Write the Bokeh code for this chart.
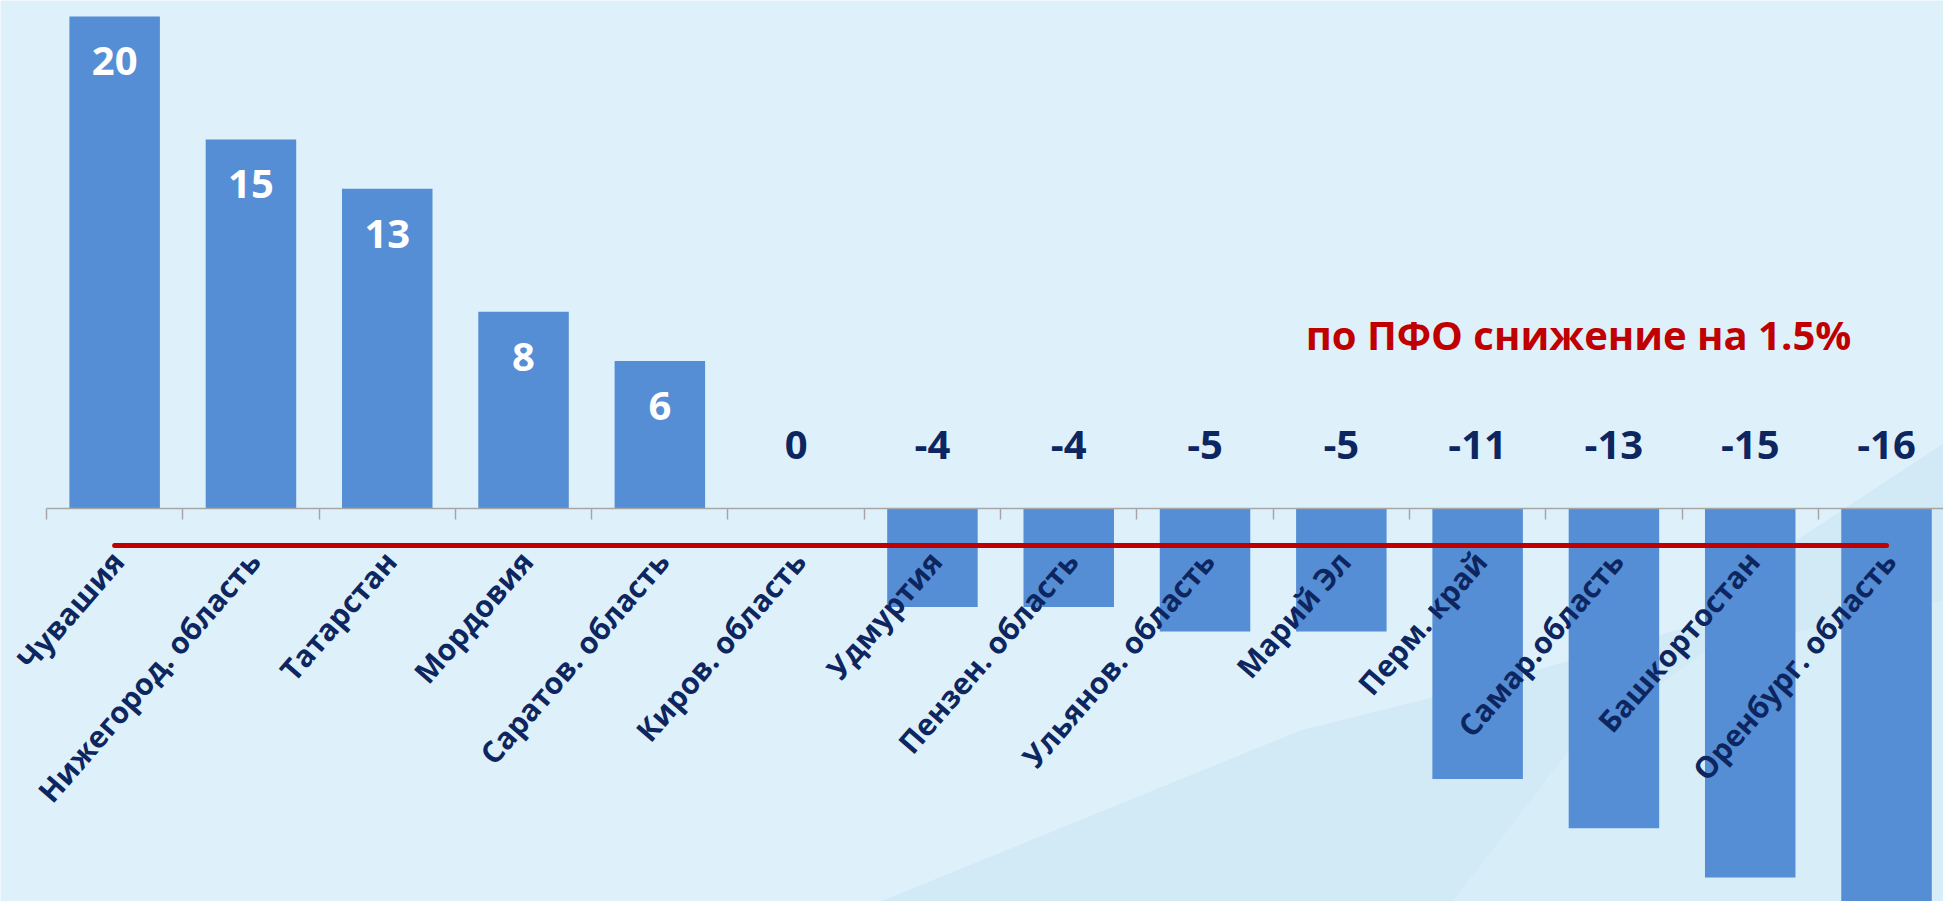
import math
from bokeh.plotting import figure
from bokeh.models import Range1d, LinearAxis, FixedTicker, ColumnDataSource, Label, PolyAnnotation
from bokeh.core.properties import value
from bokeh.embed import file_html
from bokeh.resources import INLINE

regions = ["Чувашия", "Нижегород. область", "Татарстан", "Мордовия", "Саратов. область",
           "Киров. область", "Удмуртия", "Пензен. область", "Ульянов. область", "Марий Эл",
           "Перм. край", "Самар.область", "Башкортостан", "Оренбург. область"]
values = [20, 15, 13, 8, 6, 0, -4, -4, -5, -5, -11, -13, -15, -16]
pfo_change = -1.5
note = "по ПФО снижение на 1.5%"

BG = "#DEF1FB"
BAR = "#558ED5"
NAVY = "#0D2660"
RED = "#C00000"
FONT = "Open Sans"
W, H = 1943, 901

idx = list(range(len(regions)))

p = figure(width=W, height=H, output_backend="svg", toolbar_location=None,
           x_axis_type=None, y_axis_type=None,
           x_range=Range1d(-0.8375, 13.418), y_range=Range1d(-15.976, 20.65),
           min_border_left=0, min_border_right=0, min_border_top=0, min_border_bottom=0)
p.background_fill_color = BG
p.border_fill_color = BG
p.outline_line_color = None
p.xgrid.visible = False
p.ygrid.visible = False

# subtle background decoration (screen units, y measured from the bottom)
deco1_x = [880, 1300, 1500, 1710, 1800, 1943, 1943]
deco1_y = [901, 730, 680, 620, 537, 443, 901]
deco2_x = [1452, 1566, 1706, 1943, 1943]
deco2_y = [901, 753, 650, 600, 901]
p.add_layout(PolyAnnotation(xs=deco1_x, ys=[H - y for y in deco1_y],
                            xs_units="screen", ys_units="screen",
                            fill_color="#D2E9F6", fill_alpha=1.0, line_color=None, level="underlay"))
p.add_layout(PolyAnnotation(xs=deco2_x, ys=[H - y for y in deco2_y],
                            xs_units="screen", ys_units="screen",
                            fill_color="#D7EDF8", fill_alpha=1.0, line_color=None, level="underlay"))

src = ColumnDataSource(dict(x=idx, v=values, name=regions))
p.vbar(x="x", top="v", bottom=0, width=0.664, source=src, fill_color=BAR, line_color=None)

ax = LinearAxis(fixed_location=0, bounds=(-0.5, len(regions)),
                ticker=FixedTicker(ticks=[i - 0.5 for i in range(len(regions) + 1)]))
ax.axis_line_color = "#A6A6A6"
ax.axis_line_width = 1.5
ax.major_tick_line_color = "#A6A6A6"
ax.major_tick_line_width = 1.5
ax.major_tick_in = 0
ax.major_tick_out = 11
ax.minor_tick_line_color = None
ax.major_label_text_font_size = "0px"
ax.major_label_text_alpha = 0
p.add_layout(ax, "below")

p.line(x=[idx[0], idx[-1]], y=[pfo_change, pfo_change], line_color=RED, line_width=5, line_cap="round")

pos = ColumnDataSource(dict(x=[i for i, v in zip(idx, values) if v > 0],
                            y=[v for v in values if v > 0],
                            t=[str(v) for v in values if v > 0]))
neg = ColumnDataSource(dict(x=[i for i, v in zip(idx, values) if v <= 0],
                            y=[0 for v in values if v <= 0],
                            t=[str(v) for v in values if v <= 0]))
p.text(x="x", y="y", text="t", source=pos, text_color="white", text_font=value(FONT),
       text_font_style="bold", text_font_size="40px", text_align="center",
       text_baseline="alphabetic", y_offset=45)
p.text(x="x", y="y", text="t", source=neg, text_color=NAVY, text_font=value(FONT),
       text_font_style="bold", text_font_size="40px", text_align="center",
       text_baseline="alphabetic", y_offset=-63)

lab = ColumnDataSource(dict(x=idx, y=[0] * len(idx), t=regions))
p.text(x="x", y="y", text="t", source=lab, text_color=NAVY, text_font=value(FONT),
       text_font_style="bold", text_font_size="30px", text_align="right",
       text_baseline="middle", angle=math.radians(49), x_offset=3, y_offset=47)

p.add_layout(Label(x=10.74, y=7.07, text=note, text_color=RED, text_font=FONT,
                   text_font_style="bold", text_font_size="40px", text_align="center",
                   text_baseline="alphabetic"))

open("out.html", "w").write(file_html(p, INLINE))
